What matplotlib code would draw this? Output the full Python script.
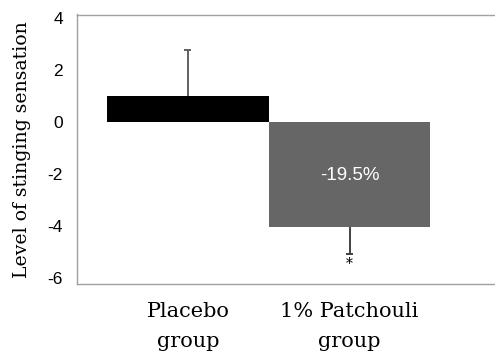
import numpy as np
import matplotlib.pyplot as plt

# Mean change in stinging sensation per group, with one-sided error bars
groups = ['Placebo\ngroup', '1% Patchouli\ngroup']
means = [1.0, -4.05]
errors = [1.8, 1.03]
bar_colors = ['#000000', '#666666']
err_colors = ['#555555', '#333333']
change_label = '-19.5%'

fig = plt.figure(figsize=(4.95, 3.52), dpi=100)
ax = fig.add_axes([77 / 495, 1 - 284 / 352, 1 - 77 / 495 + 0.01, (284 - 14.5) / 352])

x = np.arange(len(groups))
ax.bar(x, means, width=1.0, color=bar_colors, zorder=2)

# error bars point away from zero only, cap at the far end
ends = [m + np.sign(m) * e for m, e in zip(means, errors)]
ax.vlines(x, means, ends, colors=err_colors, linewidth=1.3, zorder=3)
ax.hlines(ends, x - 0.022, x + 0.022, colors=err_colors, linewidth=1.3, zorder=3)

ax.text(x[1], -2.07, change_label, color='white', ha='center', va='center',
        fontsize=13.5, family='Liberation Sans')
ax.text(x[1], ends[1] - 0.38, '*', ha='center', va='center',
        fontsize=10, family='DejaVu Serif')

ax.set_xlim(-0.686, 1.93)
ax.set_ylim(-6.23, 4.15)
ax.set_yticks([-6, -4, -2, 0, 2, 4])
ax.set_yticklabels(['-6', '-4', '-2', '0', '2', '4'], family='Liberation Sans', fontsize=12.5)
ax.tick_params(axis='y', length=0, pad=10)

ax.set_xticks(x)
ax.set_xticklabels(groups, family='DejaVu Serif', fontsize=15, linespacing=1.75)
ax.tick_params(axis='x', length=0, pad=13)

ax.set_ylabel('Level of stinging sensation', family='DejaVu Serif', fontsize=13.6, labelpad=12)

for side in ['left', 'top', 'bottom']:
    ax.spines[side].set_color('#a0a0a0')
    ax.spines[side].set_linewidth(1.0)
ax.spines['right'].set_visible(False)

fig.savefig('out.png', dpi=100)
